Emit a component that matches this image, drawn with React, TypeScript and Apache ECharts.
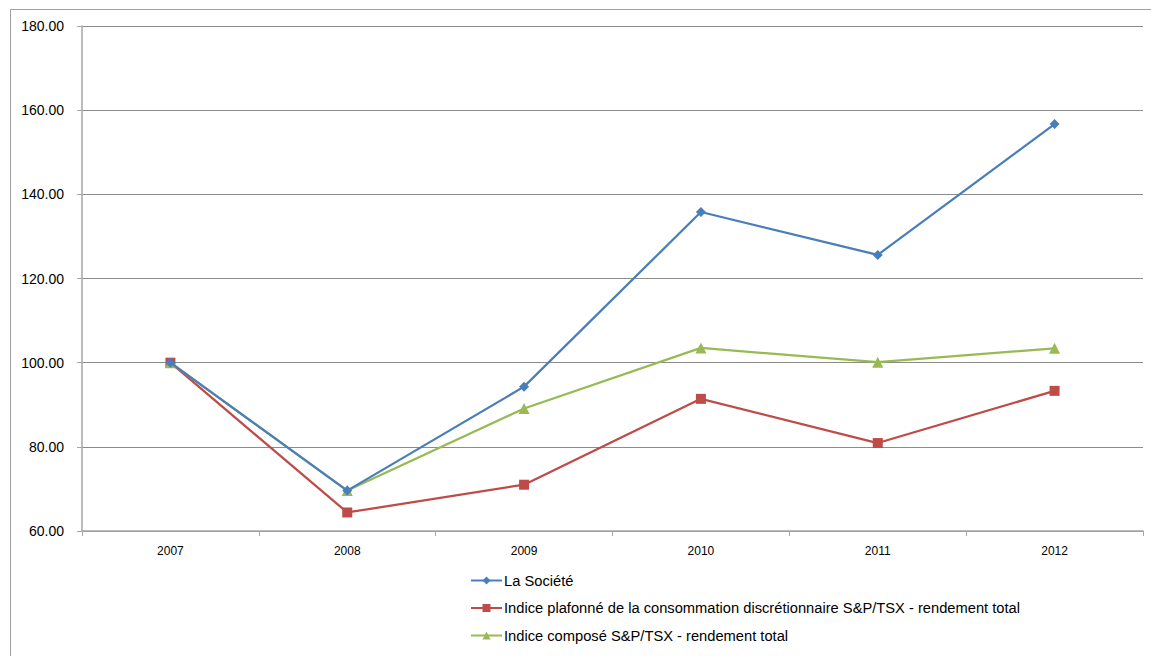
import React, { useEffect, useRef } from "react";
import * as echarts from "echarts";

const categories = ["2007", "2008", "2009", "2010", "2011", "2012"];
const societe = [100.0, 69.6, 94.3, 135.8, 125.6, 156.7];
const plafonne = [100.0, 64.4, 71.0, 91.4, 80.9, 93.3];
const compose = [100.0, 69.6, 89.1, 103.5, 100.1, 103.4];
const seriesNames = [
  "La Société",
  "Indice plafonné de la consommation discrétionnaire S&P/TSX - rendement total",
  "Indice composé S&P/TSX - rendement total",
];

export default function App() {
  const ref = useRef<HTMLDivElement>(null);
  useEffect(() => {
    if (!ref.current) return;
    const chart = echarts.init(ref.current, undefined, { renderer: "svg" });
    const font = "'Liberation Sans', Arial, sans-serif";
    chart.setOption({
      animation: false,
      backgroundColor: "#fff",
      textStyle: { fontFamily: font },
      graphic: [
        { type: "line", shape: { x1: 10.5, y1: 9.5, x2: 1151, y2: 9.5 }, style: { stroke: "#a0a0a0", lineWidth: 1 } },
        { type: "line", shape: { x1: 10.5, y1: 9.5, x2: 10.5, y2: 656 }, style: { stroke: "#a0a0a0", lineWidth: 1 } },
      ],
      grid: { left: 82, right: 8, top: 26, bottom: 125 },
      legend: {
        orient: "vertical",
        left: 470,
        top: 573,
        padding: 0,
        itemWidth: 31,
        itemHeight: 10,
        itemGap: 12.5,
        textStyle: { fontFamily: font, fontSize: 14.7, color: "#000", padding: [0, 0, 0, -3] },
        data: seriesNames,
      },
      xAxis: {
        type: "category",
        data: categories,
        boundaryGap: true,
        axisLine: { lineStyle: { color: "#a6a6a6", width: 1.5 } },
        axisTick: { show: true, length: 5, lineStyle: { color: "#a6a6a6" } },
        axisLabel: { fontSize: 12, color: "#000", margin: 14, fontFamily: font },
      },
      yAxis: {
        type: "value",
        min: 60,
        max: 180,
        interval: 20,
        axisLine: { show: true, lineStyle: { color: "#a6a6a6", width: 1.5 } },
        axisTick: { show: true, length: 5, lineStyle: { color: "#a6a6a6" } },
        axisLabel: {
          fontSize: 14,
          color: "#000",
          margin: 18,
          fontFamily: font,
          formatter: (v: number) => v.toFixed(2),
        },
        splitLine: { show: true, lineStyle: { color: "#8c8c8c", width: 1 } },
      },
      series: [
        {
          name: seriesNames[0],
          type: "line",
          data: societe,
          symbol: "diamond",
          symbolSize: 10,
          lineStyle: { color: "#4a7ebb", width: 2.25 },
          itemStyle: { color: "#4a7ebb" },
          z: 4,
        },
        {
          name: seriesNames[1],
          type: "line",
          data: plafonne,
          symbol: "rect",
          symbolSize: 10,
          lineStyle: { color: "#be4b48", width: 2.25 },
          itemStyle: { color: "#be4b48" },
          z: 2,
        },
        {
          name: seriesNames[2],
          type: "line",
          data: compose,
          symbol: "triangle",
          symbolSize: 11,
          lineStyle: { color: "#98b954", width: 2.25 },
          itemStyle: { color: "#98b954" },
          z: 3,
        },
      ],
    });
    return () => chart.dispose();
  }, []);
  return (
    <div
      ref={ref}
      style={{ position: "absolute", left: 0, top: 0, width: 1151, height: 656 }}
    />
  );
}
